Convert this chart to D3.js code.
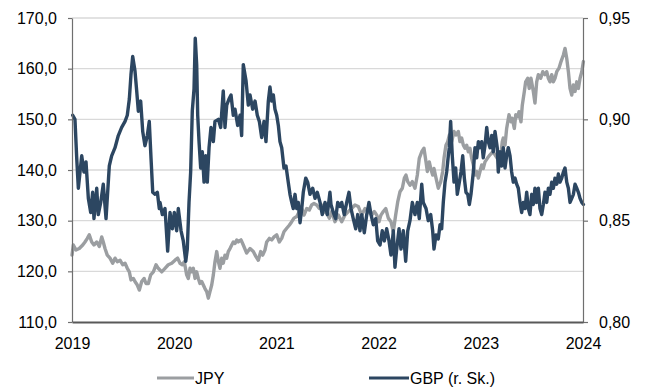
<!DOCTYPE html>
<html>
<head>
<meta charset="utf-8">
<script src="https://cdn.jsdelivr.net/npm/d3@7"></script>
<style>
  html, body { margin: 0; padding: 0; background: #fff; }
  svg { display: block; font-family: "Liberation Sans", Arial, sans-serif; }
</style>
</head>
<body>
<svg id="chart" width="647" height="389"></svg>
<script>
// ---- Data (decimal years) ----
const yearTicks = [2019, 2020, 2021, 2022, 2023, 2024];
const leftTicks = [110, 120, 130, 140, 150, 160, 170];
const rightTicks = [0.80, 0.85, 0.90, 0.95];
const seriesNames = ["JPY", "GBP (r. Sk.)"];

const jpyYears = [
2019.000,2019.013,2019.039,2019.071,2019.105,2019.127,2019.150,2019.169,2019.193,2019.215,
2019.242,2019.267,2019.291,2019.306,2019.323,2019.345,2019.372,2019.398,2019.421,2019.443,
2019.470,2019.496,2019.519,2019.541,2019.561,2019.577,2019.600,2019.616,2019.639,2019.659,
2019.682,2019.705,2019.724,2019.747,2019.770,2019.796,2019.822,2019.844,2019.878,2019.910,
2019.942,2019.976,2020.008,2020.034,2020.057,2020.079,2020.099,2020.122,2020.138,2020.155,
2020.171,2020.187,2020.204,2020.220,2020.236,2020.252,2020.269,2020.285,2020.301,2020.318,
2020.334,2020.350,2020.367,2020.383,2020.399,2020.416,2020.432,2020.448,2020.465,2020.480,
2020.497,2020.514,2020.529,2020.546,2020.563,2020.578,2020.595,2020.612,2020.627,2020.654,
2020.676,2020.709,2020.742,2020.774,2020.800,2020.823,2020.846,2020.866,2020.888,2020.905,
2020.931,2020.954,2020.977,2021.003,2021.028,2021.052,2021.074,2021.101,2021.126,2021.150,
2021.172,2021.199,2021.224,2021.248,2021.270,2021.297,2021.322,2021.345,2021.368,2021.394,
2021.420,2021.443,2021.466,2021.492,2021.518,2021.541,2021.573,2021.606,2021.639,2021.671,
2021.704,2021.737,2021.769,2021.801,2021.835,2021.867,2021.899,2021.933,2021.958,2021.982,
2022.004,2022.023,2022.046,2022.070,2022.095,2022.121,2022.144,2022.167,2022.187,2022.209,
2022.232,2022.252,2022.268,2022.285,2022.307,2022.330,2022.356,2022.379,2022.398,2022.422,
2022.444,2022.464,2022.477,2022.496,2022.510,2022.529,2022.542,2022.562,2022.584,2022.608,
2022.627,2022.640,2022.659,2022.676,2022.692,2022.715,2022.738,2022.757,2022.780,2022.796,
2022.813,2022.829,2022.845,2022.862,2022.878,2022.894,2022.911,2022.927,2022.943,2022.960,
2022.976,2022.992,2023.009,2023.024,2023.041,2023.064,2023.090,2023.116,2023.139,2023.161,
2023.188,2023.210,2023.220,2023.237,2023.253,2023.276,2023.296,2023.308,2023.328,2023.342,
2023.361,2023.374,2023.393,2023.406,2023.426,2023.439,2023.459,2023.474,2023.491,2023.514,
2023.530,2023.547,2023.563,2023.586,2023.606,2023.628,2023.645,2023.661,2023.677,2023.694,
2023.710,2023.726,2023.743,2023.765,2023.785,2023.808,2023.824,2023.841,2023.857,2023.873,
2023.890,2023.906,2023.922,2023.939,2023.955,2023.971,2023.988,2024.004];

const jpyValues = [
123.2,125.2,124.2,124.5,125.2,125.8,126.5,127.2,125.8,125.2,
125.8,124.9,126.8,125.8,124.5,123.2,122.6,121.6,122.6,121.9,
122.2,121.3,121.6,120.6,119.9,118.3,118.6,118.0,117.3,116.3,
118.0,118.6,117.6,117.6,119.3,119.9,121.3,120.6,119.9,120.6,
121.3,121.6,122.2,122.6,121.6,121.3,121.9,119.3,118.6,120.6,
119.9,120.6,118.6,119.9,118.6,117.6,118.0,117.3,116.6,116.0,
114.7,116.0,117.3,119.3,121.9,123.9,121.9,120.6,122.6,121.6,
123.2,122.6,123.9,124.5,125.2,125.8,125.5,126.2,125.8,126.2,
125.2,123.6,124.5,123.9,122.9,122.2,123.9,123.2,124.2,125.8,
126.5,126.2,126.8,127.2,125.8,126.5,127.8,128.5,129.1,129.8,
130.5,130.8,131.8,132.4,131.1,132.4,132.1,133.1,133.4,133.1,
132.4,133.1,131.8,131.5,130.5,131.8,129.8,131.1,129.8,131.1,
131.8,132.4,133.1,132.8,131.1,132.4,131.8,131.1,131.8,131.1,
129.8,131.1,131.8,132.4,130.5,129.8,127.8,131.1,133.7,135.7,
136.4,138.4,139.0,137.7,137.0,137.7,136.4,139.0,142.3,143.6,
144.3,141.6,139.7,141.6,140.3,139.0,140.3,138.4,136.4,137.7,
139.7,142.3,144.9,145.6,146.9,145.6,147.6,146.9,147.6,145.6,
146.3,144.9,144.3,144.9,143.6,144.3,142.3,141.0,139.0,139.7,
138.4,139.7,141.0,140.3,141.6,142.3,143.0,143.6,143.0,142.3,
141.6,145.6,146.3,144.9,148.2,150.9,149.5,150.2,148.2,150.9,
150.5,151.5,149.5,152.8,155.5,157.4,158.1,156.1,158.1,155.5,
153.2,157.4,158.8,158.1,159.4,158.8,159.4,158.1,157.4,158.8,
157.4,158.1,159.4,160.1,161.4,162.7,164.0,162.0,159.4,156.1,
154.8,156.8,155.5,157.4,156.1,158.1,159.4,161.4];

const gbpYears = [
2019.007,2019.029,2019.046,2019.062,2019.095,2019.117,2019.137,2019.160,2019.183,2019.202,
2019.215,2019.242,2019.257,2019.281,2019.306,2019.333,2019.365,2019.388,2019.421,2019.453,
2019.486,2019.519,2019.541,2019.561,2019.577,2019.594,2019.616,2019.633,2019.649,2019.672,
2019.692,2019.714,2019.737,2019.756,2019.773,2019.790,2019.812,2019.835,2019.854,2019.861,
2019.884,2019.910,2019.936,2019.959,2019.982,2020.001,2020.024,2020.040,2020.067,2020.089,
2020.113,2020.128,2020.145,2020.161,2020.177,2020.194,2020.206,2020.220,2020.230,2020.243,
2020.259,2020.275,2020.292,2020.308,2020.324,2020.341,2020.360,2020.383,2020.399,2020.432,
2020.455,2020.480,2020.497,2020.514,2020.536,2020.556,2020.578,2020.595,2020.621,2020.644,
2020.660,2020.676,2020.703,2020.725,2020.742,2020.768,2020.791,2020.813,2020.833,2020.856,
2020.879,2020.898,2020.921,2020.937,2020.954,2020.970,2020.986,2021.003,2021.019,2021.035,
2021.052,2021.074,2021.094,2021.116,2021.133,2021.150,2021.165,2021.182,2021.199,2021.214,
2021.231,2021.248,2021.263,2021.287,2021.306,2021.329,2021.355,2021.378,2021.400,2021.427,
2021.449,2021.476,2021.498,2021.524,2021.534,2021.557,2021.580,2021.600,2021.622,2021.639,
2021.664,2021.688,2021.710,2021.730,2021.752,2021.776,2021.796,2021.818,2021.835,2021.860,
2021.884,2021.906,2021.926,2021.948,2021.972,2021.991,2022.014,2022.036,2022.056,2022.079,
2022.102,2022.121,2022.144,2022.160,2022.177,2022.200,2022.219,2022.242,2022.265,2022.285,
2022.307,2022.330,2022.356,2022.379,2022.398,2022.422,2022.437,2022.464,2022.486,2022.510,
2022.529,2022.542,2022.562,2022.584,2022.601,2022.617,2022.633,2022.650,2022.666,2022.682,
2022.692,2022.705,2022.721,2022.738,2022.754,2022.770,2022.790,2022.806,2022.823,2022.839,
2022.855,2022.872,2022.888,2022.904,2022.927,2022.943,2022.960,2022.976,2022.992,2023.009,
2023.024,2023.041,2023.058,2023.073,2023.090,2023.107,2023.122,2023.139,2023.161,2023.171,
2023.188,2023.205,2023.220,2023.237,2023.253,2023.269,2023.286,2023.302,2023.318,2023.335,
2023.351,2023.367,2023.384,2023.400,2023.416,2023.433,2023.449,2023.465,2023.481,2023.498,
2023.514,2023.530,2023.547,2023.563,2023.579,2023.596,2023.612,2023.628,2023.645,2023.661,
2023.677,2023.694,2023.710,2023.726,2023.743,2023.759,2023.775,2023.792,2023.808,2023.824,
2023.841,2023.857,2023.873,2023.890,2023.906,2023.922,2023.939,2023.955,2023.971,2023.988,
2024.004];

const gbpValues = [
0.902,0.900,0.881,0.866,0.882,0.874,0.879,0.861,0.854,0.864,
0.851,0.866,0.853,0.859,0.868,0.851,0.877,0.882,0.886,0.892,
0.896,0.899,0.902,0.910,0.922,0.931,0.924,0.914,0.904,0.909,
0.894,0.887,0.892,0.899,0.881,0.864,0.863,0.864,0.856,0.859,
0.853,0.856,0.835,0.854,0.846,0.854,0.845,0.856,0.845,0.840,
0.830,0.836,0.859,0.874,0.904,0.915,0.940,0.927,0.902,0.889,
0.876,0.884,0.869,0.882,0.869,0.886,0.896,0.889,0.899,0.900,
0.896,0.914,0.896,0.907,0.910,0.912,0.902,0.905,0.897,0.902,
0.892,0.927,0.919,0.907,0.912,0.905,0.909,0.902,0.899,0.891,
0.899,0.889,0.909,0.916,0.909,0.912,0.905,0.902,0.897,0.889,
0.886,0.876,0.877,0.869,0.863,0.859,0.856,0.863,0.856,0.859,
0.849,0.856,0.864,0.871,0.869,0.863,0.866,0.861,0.864,0.859,
0.853,0.859,0.853,0.864,0.858,0.854,0.851,0.859,0.857,0.859,
0.853,0.859,0.864,0.856,0.851,0.846,0.853,0.845,0.853,0.844,
0.853,0.859,0.853,0.848,0.851,0.840,0.838,0.845,0.840,0.846,
0.840,0.833,0.845,0.827,0.836,0.846,0.836,0.845,0.830,0.845,
0.850,0.859,0.853,0.859,0.851,0.868,0.859,0.856,0.850,0.853,
0.845,0.836,0.843,0.841,0.848,0.846,0.859,0.869,0.874,0.882,
0.886,0.899,0.882,0.869,0.876,0.863,0.869,0.874,0.882,0.871,
0.864,0.863,0.858,0.863,0.874,0.886,0.881,0.889,0.886,0.889,
0.881,0.887,0.896,0.889,0.886,0.892,0.884,0.894,0.886,0.874,
0.884,0.877,0.886,0.876,0.882,0.886,0.882,0.874,0.869,0.871,
0.868,0.866,0.859,0.854,0.859,0.856,0.864,0.856,0.853,0.863,
0.858,0.866,0.859,0.866,0.856,0.853,0.858,0.864,0.859,0.866,
0.863,0.869,0.866,0.871,0.868,0.873,0.869,0.871,0.874,0.876,
0.869,0.866,0.859,0.861,0.863,0.868,0.866,0.864,0.861,0.859,
0.858];

// ---- Styles ----
const colJPY = "#9b9ea1";
const colGBP = "#2c4661";
const gridCol = "#d9d9d9";
const axisCol = "#6f6f6f";
const fontSize = 16;

// ---- Layout ----
const svg = d3.select("#chart");
const L = 72, R = 583, T = 18, B = 322;

const x = d3.scaleLinear().domain([2019, 2024]).range([L, R]);
const yL = d3.scaleLinear().domain([110, 170]).range([B, T]);
const yR = d3.scaleLinear().domain([0.80, 0.95]).range([B, T]);

// gridlines
svg.append("g").selectAll("line")
  .data(leftTicks.filter(d => d > 110))
  .join("line")
  .attr("x1", L).attr("x2", R)
  .attr("y1", d => yL(d)).attr("y2", d => yL(d))
  .attr("stroke", gridCol).attr("stroke-width", 1.3);

// lines
const jpyData = jpyYears.map((t, i) => ({ t, v: jpyValues[i] }));
const gbpData = gbpYears.map((t, i) => ({ t, v: gbpValues[i] }));

const lineL = d3.line().x(d => x(d.t)).y(d => yL(d.v));
const lineR = d3.line().x(d => x(d.t)).y(d => yR(d.v));

svg.append("path").datum(jpyData)
  .attr("d", lineL).attr("fill", "none")
  .attr("stroke", colJPY).attr("stroke-width", 3.4)
  .attr("stroke-linejoin", "round").attr("stroke-linecap", "round");

svg.append("path").datum(gbpData)
  .attr("d", lineR).attr("fill", "none")
  .attr("stroke", colGBP).attr("stroke-width", 3.4)
  .attr("stroke-linejoin", "round").attr("stroke-linecap", "round");

// axes
const fmtL = d => d.toFixed(1).replace(".", ",");
const fmtR = d => d.toFixed(2).replace(".", ",");

const gL = svg.append("g").attr("transform", `translate(${L},0)`)
  .call(d3.axisLeft(yL).tickValues(leftTicks).tickFormat(fmtL).tickSize(4).tickSizeOuter(0).tickPadding(11));
const gR = svg.append("g").attr("transform", `translate(${R},0)`)
  .call(d3.axisRight(yR).tickValues(rightTicks).tickFormat(fmtR).tickSize(5).tickSizeOuter(0).tickPadding(11));
const gB = svg.append("g").attr("transform", `translate(0,${B})`)
  .call(d3.axisBottom(x).tickValues(yearTicks).tickFormat(d3.format("d")).tickSize(0).tickSizeOuter(0).tickPadding(15.5));

[gL, gR, gB].forEach(g => {
  g.selectAll("path.domain").attr("stroke", axisCol).attr("stroke-width", 1.2);
  g.selectAll(".tick line").attr("stroke", axisCol).attr("stroke-width", 1.2);
  g.selectAll("text").attr("fill", "#000").style("font-size", fontSize + "px")
    .style("font-family", '"Liberation Sans", Arial, sans-serif');
});
gB.selectAll("path.domain").attr("stroke", "#595959").attr("stroke-width", 2);

// legend
const legend = svg.append("g");
const legItems = [
  { name: seriesNames[0], color: colJPY, x1: 157, x2: 194 },
  { name: seriesNames[1], color: colGBP, x1: 369, x2: 409 }
];
const legY = 378;
legItems.forEach(it => {
  legend.append("line").attr("x1", it.x1).attr("x2", it.x2)
    .attr("y1", legY).attr("y2", legY)
    .attr("stroke", it.color).attr("stroke-width", 3);
  legend.append("text").attr("x", it.x2 + 1).attr("y", legY)
    .attr("dy", "0.35em").attr("fill", "#000")
    .style("font-size", fontSize + "px").text(it.name);
});
</script>
</body>
</html>
